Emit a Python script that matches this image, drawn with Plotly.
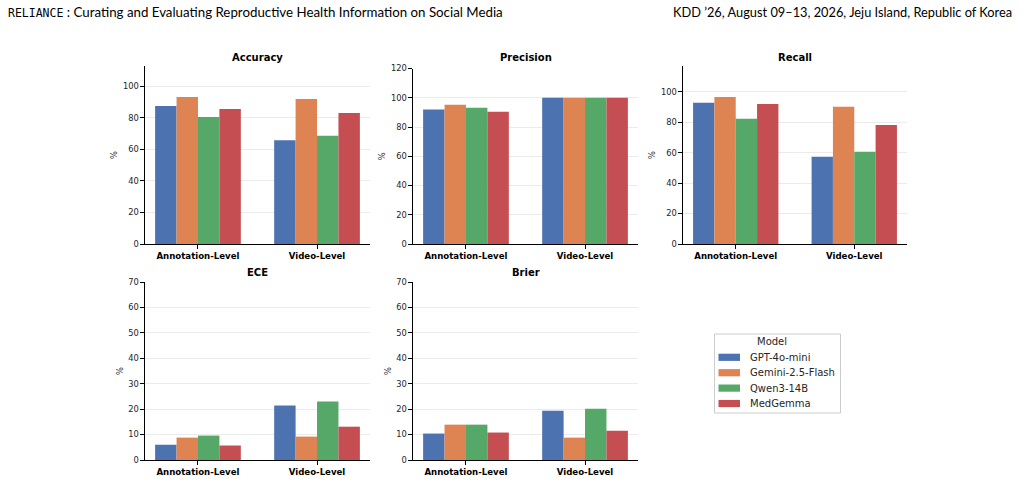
import plotly.graph_objects as go

categories = ["Annotation-Level", "Video-Level"]
models = ["GPT-4o-mini", "Gemini-2.5-Flash", "Qwen3-14B", "MedGemma"]
colors = ["#4C72B0", "#DD8452", "#55A868", "#C44E52"]

accuracy = {
    "GPT-4o-mini": [87.5, 65.8],
    "Gemini-2.5-Flash": [93.2, 92.0],
    "Qwen3-14B": [80.6, 68.6],
    "MedGemma": [85.7, 83.1],
}
precision = {
    "GPT-4o-mini": [91.9, 100.0],
    "Gemini-2.5-Flash": [95.2, 100.0],
    "Qwen3-14B": [93.2, 100.0],
    "MedGemma": [90.5, 100.0],
}
recall = {
    "GPT-4o-mini": [92.8, 57.3],
    "Gemini-2.5-Flash": [96.7, 90.2],
    "Qwen3-14B": [82.3, 60.6],
    "MedGemma": [92.1, 78.3],
}
ece = {
    "GPT-4o-mini": [6.0, 21.4],
    "Gemini-2.5-Flash": [8.8, 9.2],
    "Qwen3-14B": [9.6, 23.0],
    "MedGemma": [5.7, 13.1],
}
brier = {
    "GPT-4o-mini": [10.4, 19.4],
    "Gemini-2.5-Flash": [13.9, 8.8],
    "Qwen3-14B": [13.9, 20.2],
    "MedGemma": [10.8, 11.5],
}

# (title, data, (x0, x1, y0, y1) in px, y range, dtick, title y px)
panels = [
    ("Accuracy", accuracy, (145, 370, 66, 244), [0, 112.9], 20, 57),
    ("Precision", precision, (413, 638, 68.5, 244), [0, 120], 20, 57),
    ("Recall", recall, (683, 907, 66, 244), [0, 117], 20, 57),
    ("ECE", ece, (145, 370, 282, 460), [0, 70], 10, 272),
    ("Brier", brier, (413, 638, 282, 460), [0, 70], 10, 272),
]

W, H = 1022, 479
fig = go.Figure()
FONT = "DejaVu Sans"
TXT = "#262626"

for i, (title, data, (x0, x1, y0, y1), yr, dt, ty) in enumerate(panels):
    n = "" if i == 0 else str(i + 1)
    xa, ya = "x" + n, "y" + n
    for m, c in zip(models, colors):
        fig.add_trace(go.Bar(
            x=categories, y=data[m], name=m, marker_color=c, marker_line_width=0,
            xaxis=xa, yaxis=ya, legendgroup=m, showlegend=False,
        ))
    fig.layout["xaxis" + n] = dict(
        domain=[x0 / W, x1 / W], anchor=ya, range=[-0.445, 1.445], automargin=False,
        showline=True, linecolor="black", linewidth=1.2, ticks="outside", ticklen=3.5,
        tickcolor="black", showgrid=False,
        tickfont=dict(family=FONT, size=8.6, color="black", weight="bold"),
    )
    fig.layout["yaxis" + n] = dict(
        domain=[1 - y1 / H, 1 - y0 / H], anchor=xa, range=yr, dtick=dt, automargin=False,
        showline=True, linecolor="black", linewidth=1.2, ticks="outside", ticklen=3.5,
        tickcolor="black", showgrid=True, gridcolor="#ebebeb", gridwidth=1,
        zeroline=False, tickfont=dict(family=FONT, size=8.3, color=TXT),
        title=dict(text="%", font=dict(family=FONT, size=8.3, color=TXT), standoff=3),
    )
    fig.add_annotation(
        x=(x0 + x1) / 2 / W, y=1 - ty / H, xref="paper", yref="paper",
        text="<b>" + title + "</b>", showarrow=False, xanchor="center", yanchor="middle",
        font=dict(family=FONT, size=10, color="black"),
    )

# header
fig.add_annotation(
    x=6 / W, y=1 - 12 / H, xref="paper", yref="paper", xanchor="left", yanchor="middle",
    showarrow=False,
    text="<span style='font-family:DejaVu Sans Mono;font-size:11.5px'>RELIANCE</span> : Curating and Evaluating Reproductive Health Information on Social Media",
    font=dict(family="Lato", size=13.3, color="black"),
)
fig.add_annotation(
    x=1014 / W, y=1 - 12 / H, xref="paper", yref="paper", xanchor="right", yanchor="middle",
    showarrow=False,
    text="KDD ’26, August 09–13, 2026, Jeju Island, Republic of Korea",
    font=dict(family="Lato", size=12.8, color="black"),
)

# legend (drawn as layout elements)
lx0, lx1, ly0, ly1 = 714.5, 840.5, 334, 413
fig.add_shape(type="rect", xref="paper", yref="paper",
              x0=lx0 / W, x1=lx1 / W, y0=1 - ly1 / H, y1=1 - ly0 / H,
              line=dict(color="#cccccc", width=1), fillcolor="white", layer="above")
fig.add_annotation(x=771.7 / W, y=1 - 341.7 / H, xref="paper", yref="paper",
                   text="Model", showarrow=False, xanchor="center", yanchor="middle",
                   font=dict(family=FONT, size=10, color=TXT))
for k, (m, c) in enumerate(zip(models, colors)):
    yc = 357.3 + k * 15.4
    fig.add_shape(type="rect", xref="paper", yref="paper",
                  x0=718.5 / W, x1=740 / W, y0=1 - (yc + 3.6) / H, y1=1 - (yc - 3.6) / H,
                  line=dict(width=0), fillcolor=c, layer="above")
    fig.add_annotation(x=747.5 / W, y=1 - yc / H, xref="paper", yref="paper",
                       text=m, showarrow=False, xanchor="left", yanchor="middle",
                       font=dict(family=FONT, size=10, color=TXT))

fig.update_layout(
    width=W, height=H, margin=dict(l=0, r=0, t=0, b=0, autoexpand=False),
    paper_bgcolor="white", plot_bgcolor="white",
    barmode="group", bargap=0.28, bargroupgap=0, showlegend=False,
)

fig.write_html("out.html")
